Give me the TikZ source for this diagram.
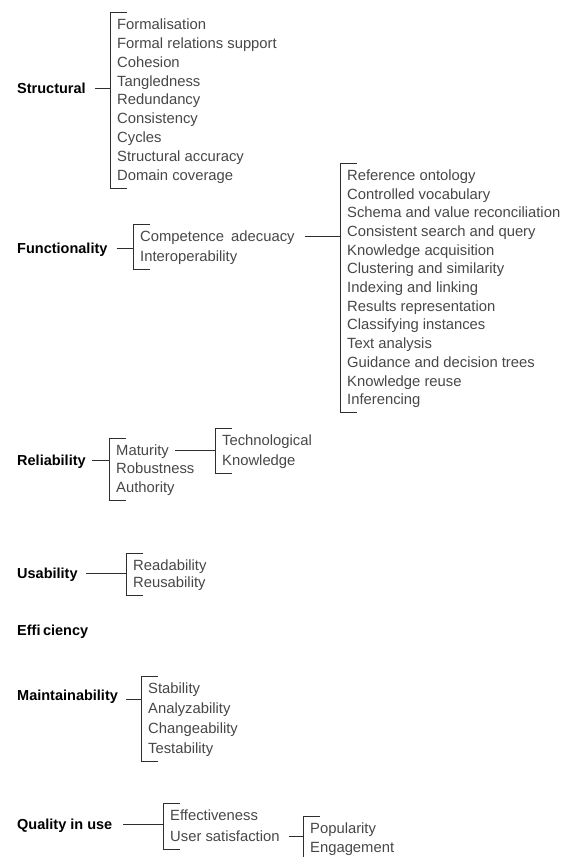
\documentclass[tikz,border=0pt]{standalone}
\usepackage{fontspec}
\setmainfont{Liberation Sans}
\usetikzlibrary{calc}

\definecolor{itemgrey}{HTML}{474747}
\definecolor{linegrey}{HTML}{2E2E2E}

\tikzset{
	quality/.style={font=\fontsize{14.5}{17}\selectfont\bfseries, anchor=west, inner sep=0pt, text height=10.4pt, text depth=0pt},
	subitem/.style={font=\fontsize{14.8}{17}\selectfont, text=itemgrey, anchor=west, inner sep=0pt, text height=10.6pt, text depth=0pt},
	brace/.style={draw=linegrey, line width=0.75pt}
}

% [ shaped bracket from the first to the last item of a list
\newcommand{\bracketlist}[3]{%
	\draw[brace] ([shift={({\ticklen-\brgap},-12)}]#1.west) -- ([shift={(-\brgap,-12)}]#1.west) coordinate (#3)
		-- ([shift={(-\brgap,13)}]#2.west) -- ([shift={({\ticklen-\brgap},13)}]#2.west);}

\begin{document}
\begin{tikzpicture}[x=1pt, y=-1pt]
	\def\ticklen{16}
	\def\brgap{6.5}
	\useasboundingbox (0,0) rectangle (570,857);

	% Structural
	\node[quality] (structural) at (17,88) {Structural};
	\foreach \t [count=\i] in {Formalisation, Formal relations support, Cohesion, Tangledness, Redundancy, Consistency, Cycles, Structural accuracy, Domain coverage}
		\node[subitem] (st\i) at (117,{24+18.9*(\i-1)}) {\t};
	\bracketlist{st1}{st9}{stb}
	\draw[brace] ([xshift=9pt]structural.east) -- (structural.east -| stb);

	% Functionality
	\node[quality] (functionality) at (17,248) {Functionality};
	\node[subitem] (fu1) at (140,236) {Competence\hspace{3pt} adecuacy};
	\node[subitem] (fu2) at (140,256) {Interoperability};
	\bracketlist{fu1}{fu2}{fub}
	\draw[brace] ([xshift=9pt]functionality.east) -- (functionality.east -| fub);

	\foreach \t [count=\i] in {Reference ontology, Controlled vocabulary, Schema and value reconciliation, Consistent search and query, Knowledge acquisition, Clustering and similarity, Indexing and linking, Results representation, Classifying instances, Text analysis, Guidance and decision trees, Knowledge reuse, Inferencing}
		\node[subitem] (ca\i) at (347,{175+18.7*(\i-1)}) {\t};
	\bracketlist{ca1}{ca13}{cab}
	\draw[brace] ([xshift=10pt]fu1.east) -- (fu1.east -| cab);

	% Reliability
	\node[quality] (reliability) at (17,460) {Reliability};
	\foreach \t [count=\i] in {Maturity, Robustness, Authority}
		\node[subitem] (re\i) at (116,{450+18.5*(\i-1)}) {\t};
	\bracketlist{re1}{re3}{reb}
	\draw[brace] ([xshift=6pt]reliability.east) -- (reliability.east -| reb);

	\node[subitem] (ma1) at (222,440) {Technological};
	\node[subitem] (ma2) at (222,460) {Knowledge};
	\bracketlist{ma1}{ma2}{mab}
	\draw[brace] ([xshift=6pt]re1.east) -- (re1.east -| mab);

	% Usability
	\node[quality] (usability) at (17,573) {Usability};
	\node[subitem] (us1) at (133,565) {Readability};
	\node[subitem] (us2) at (133,582) {Reusability};
	\bracketlist{us1}{us2}{usb}
	\draw[brace] ([xshift=8pt]usability.east) -- (usability.east -| usb);

	% Efficiency
	\node[quality] (efficiency) at (17,630) {Effi\kern2.5pt ciency};

	% Maintainability
	\node[quality] (maintainability) at (17,695) {Maintainability};
	\foreach \t [count=\i] in {Stability, Analyzability, Changeability, Testability}
		\node[subitem] (mt\i) at (148,{688+20*(\i-1)}) {\t};
	\bracketlist{mt1}{mt4}{mtb}
	\draw[brace] ($(maintainability.east)+(8,4)$) -- ($(maintainability.east -| mtb)+(0,4)$);

	% Quality in use
	\node[quality] (inuse) at (17,824) {Quality in use};
	\node[subitem] (qu1) at (170,815) {Effectiveness};
	\node[subitem] (qu2) at (170,836) {User satisfaction};
	\bracketlist{qu1}{qu2}{qub}
	\draw[brace] ([xshift=11pt]inuse.east) -- (inuse.east -| qub);

	\node[subitem] (us1b) at (310,828) {Popularity};
	\node[subitem] (us2b) at (310,847) {Engagement};
	\bracketlist{us1b}{us2b}{sab}
	\draw[brace] ([xshift=9pt]qu2.east) -- (qu2.east -| sab);
\end{tikzpicture}
\end{document}
